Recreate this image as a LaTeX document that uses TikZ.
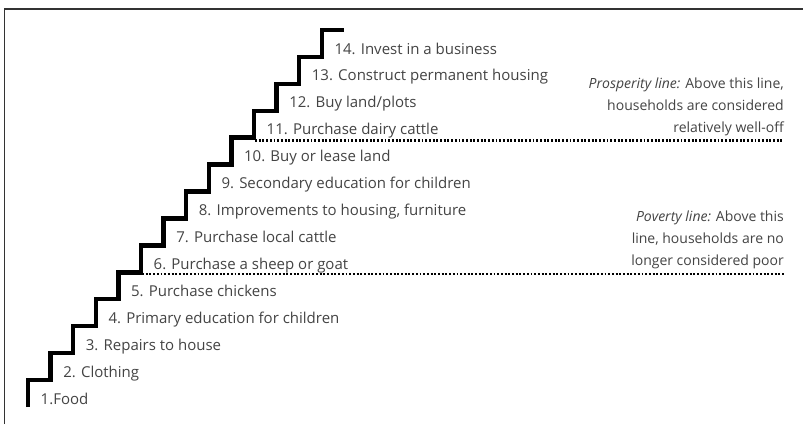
\documentclass[tikz,border=0pt]{standalone}
\usepackage{fontspec}
\setmainfont{Open Sans}
\definecolor{txt}{HTML}{444444}
\begin{document}
\begin{tikzpicture}[x=1pt,y=-1pt,
  frame/.style={draw=black!80, line width=1.5pt},
  stair/.style={draw=black, line width=4.5pt, line join=miter},
  dotline/.style={draw=black, line width=2.4pt, dash pattern=on 1.9pt off 1.8pt},
  lbl/.style={anchor=base west, inner sep=0pt, text=txt, font=\fontsize{15}{18}\selectfont},
  note/.style={anchor=base east, inner sep=0pt, text=txt, align=right, font=\fontsize{14}{20.6}\selectfont}]
\useasboundingbox (0,0) rectangle (803,424);
\fill[white] (0,0) rectangle (803,424);
% frame
\draw[frame] (4.5,424) -- (4.5,9) -- (803,9);
% staircase
\def\dx{22.6}
\def\dy{26.92}
\draw[stair] (28,407) -- (28,380)
  \foreach \k in {1,...,13} { -- ({28+\k*\dx},{380-(\k-1)*\dy}) -- ({28+\k*\dx},{380-\k*\dy}) }
  -- ({28+14*\dx},{380-13*\dy});
% labels
\foreach \k/\t in {1/{1.Food},2/{2. Clothing},3/{3. Repairs to house},
  4/{4. Primary education for children},5/{5. Purchase chickens},
  6/{6. Purchase a sheep or goat},7/{7. Purchase local cattle},
  8/{8. Improvements to housing, furniture},9/{9. Secondary education for children},
  10/{10. Buy or lease land},11/{11. Purchase dairy cattle},12/{12. Buy land/plots},
  13/{13. Construct permanent housing},14/{14. Invest in a business}}
  \node[lbl] (s\k) at ({28+(\k-1)*\dx+12.5},{404-(\k-1)*\dy}) {\t};
% poverty / prosperity lines
\coordinate (pov0) at ({28+5*\dx+1},274);
\coordinate (pov1) at (784,274);
\coordinate (pro0) at ({28+10*\dx+1},140.5);
\coordinate (pro1) at (784,140.5);
\draw[dotline] (pov0) -- (pov1);
\draw[dotline] (pro0) -- (pro1);
\node[note] (pros) at (784,132) {\textit{Prosperity line:} Above this line,\\[1pt]households are considered\\[1pt]relatively well-off};
\node[note] (pov) at (784,265) {\textit{Poverty line:} Above this\\[1pt]line, households are no\\[1pt]longer considered poor};
\end{tikzpicture}
\end{document}
